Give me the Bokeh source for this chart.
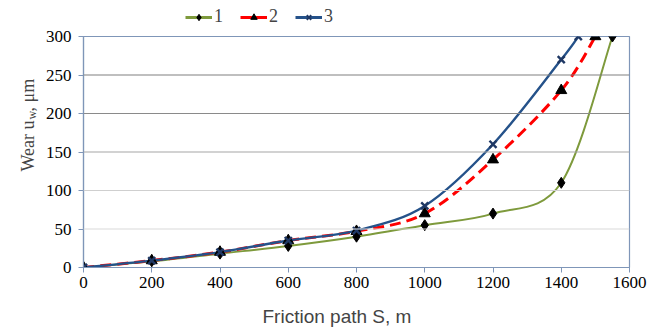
import numpy as np
from bokeh.plotting import figure
from bokeh.layouts import row, column
from bokeh.models import Legend, LegendItem, Label, Span, ColumnDataSource, FixedTicker
from bokeh.embed import file_html
from bokeh.resources import INLINE

# ---- data ----
s1 = [0, 200, 400, 600, 800, 1000, 1200, 1400, 1550]
w1 = [0, 8, 18, 28, 40, 55, 70, 110, 300]
s2 = [0, 200, 400, 600, 800, 1000, 1200, 1400, 1500]
w2 = [0, 9, 20, 35, 47, 70, 140, 230, 300]
s3 = [0, 200, 400, 600, 800, 1000, 1200, 1400, 1450]
w3 = [0, 9, 20, 35, 48, 80, 160, 270, 300]
names = ["1", "2", "3"]
x_ticks = [0, 200, 400, 600, 800, 1000, 1200, 1400, 1600]
y_ticks = [0, 50, 100, 150, 200, 250, 300]
x_title = "Friction path S, m"
y_title_parts = ["Wear u", "w", ", μm"]

colors = ["#7E9A3C", "#FF0000", "#25528A"]
mcolors = ["black", "black", "#1F3864"]
markers = ["diamond", "triangle", "x"]
dashes = ["solid", "11 6", "solid"]
widths = [2, 3, 2.4]
msizes = [11, 11, 10]

SERIF = "'Liberation Serif'"
SANS = "'Liberation Sans'"
AXC = "#7F96B8"

W, H = 660, 329
LEFT_W, TOP_H, BOT_H = 40, 27, 30
F_L, F_R, F_T, F_B = 83, 629, 36, 267   # plot frame edges (page pixels)


def blank(w, h, xr, yr):
    f = figure(width=w, height=h, x_range=xr, y_range=yr, output_backend="svg",
               toolbar_location=None, min_border=0, x_axis_location=None, y_axis_location=None)
    f.outline_line_color = None
    f.xgrid.visible = False
    f.ygrid.visible = False
    f.background_fill_color = "white"
    f.border_fill_color = "white"
    return f


# ---- main chart ----
main_h = H - TOP_H - BOT_H
p = figure(width=W - LEFT_W, height=main_h, x_range=(0, 1600), y_range=(0, 300),
           output_backend="svg", toolbar_location=None,
           min_border_left=F_L - LEFT_W, min_border_right=W - F_R,
           min_border_top=F_T - TOP_H, min_border_bottom=TOP_H + main_h - F_B)
p.background_fill_color = "white"
p.border_fill_color = "white"
p.outline_line_color = AXC
p.outline_line_width = 1.2

p.xgrid.visible = False
p.ygrid.visible = False
grid_cols = {50: "#D9D9D9", 100: "#CFCFCF", 150: "#A6A6A6", 200: "#8A8A8A", 250: "#808080"}
for yv in y_ticks[1:-1]:
    p.add_layout(Span(location=yv, dimension="width", line_color=grid_cols[yv], line_width=1.2))

for ax in (p.xaxis, p.yaxis):
    ax.axis_line_color = AXC
    ax.axis_line_width = 1.2
    ax.major_tick_line_color = AXC
    ax.major_tick_out = 5
    ax.major_tick_in = 0
    ax.minor_tick_line_color = None
    ax.major_label_text_font = SERIF
    ax.major_label_text_font_size = "17px"
    ax.major_label_text_color = "black"
p.xaxis.ticker = FixedTicker(ticks=x_ticks)
p.yaxis.ticker = FixedTicker(ticks=y_ticks)
p.xaxis.major_label_standoff = 4
p.yaxis.major_label_standoff = 7
p.xaxis.axis_label = None
p.yaxis.axis_label = None


def smooth(xs, ys):
    xs = np.asarray(xs, float)
    ys = np.asarray(ys, float)
    n = len(xs)
    xp = np.concatenate([[xs[0]], xs, [xs[-1]]])
    yp = np.concatenate([[ys[0]], ys, [ys[-1]]])
    d = dict(x0=[], y0=[], x1=[], y1=[], cx0=[], cy0=[], cx1=[], cy1=[])
    for i in range(n - 1):
        j = i + 1
        d["x0"].append(xp[j]); d["y0"].append(yp[j])
        d["x1"].append(xp[j + 1]); d["y1"].append(yp[j + 1])
        d["cx0"].append(xp[j] + (xp[j + 1] - xp[j - 1]) / 6)
        d["cy0"].append(yp[j] + (yp[j + 1] - yp[j - 1]) / 6)
        d["cx1"].append(xp[j + 1] - (xp[j + 2] - xp[j]) / 6)
        d["cy1"].append(yp[j + 1] - (yp[j + 2] - yp[j]) / 6)
    return ColumnDataSource(d)


series = [(s1, w1), (s2, w2), (s3, w3)]
for k, (xs, ys) in enumerate(series):
    src = smooth(xs, ys)
    p.bezier(x0="x0", y0="y0", x1="x1", y1="y1", cx0="cx0", cy0="cy0", cx1="cx1", cy1="cy1",
             source=src, line_color=colors[k], line_width=widths[k], line_dash=dashes[k])

for k, (xs, ys) in enumerate(series):
    p.scatter(xs, ys, marker=markers[k], size=msizes[k], fill_color=mcolors[k],
              line_color=mcolors[k], line_width=2.4 if markers[k] == "x" else 1)

# ---- top strip with the legend (its ranges keep the proxy data off-canvas) ----
t = blank(W, TOP_H, (-700, -40), (-30, 0))
items = []
for k, (xs, ys) in enumerate(series):
    lr = t.line(xs, ys, line_color=colors[k], line_width=3)
    sr = t.scatter(xs, ys, marker=markers[k], size=msizes[k] - 1, fill_color=mcolors[k],
                   line_color=mcolors[k], line_width=2 if markers[k] == "x" else 1)
    items.append(LegendItem(label=names[k], renderers=[lr, sr]))
legend = Legend(items=items, orientation="horizontal", location=(185, 0),
                background_fill_alpha=0, border_line_color=None,
                label_text_font=SERIF, label_text_font_size="18px",
                glyph_width=27, glyph_height=16, label_standoff=2, spacing=6,
                padding=0, margin=0, label_height=16)
t.add_layout(legend, "center")

# ---- left strip with the rotated y-axis title (its frame lines up with the chart frame) ----
q = blank(LEFT_W, main_h, (0, LEFT_W), (F_B, F_T))
q.add_layout(Label(x=27, y=171, text=y_title_parts[0], angle=np.pi / 2, text_font=SERIF,
                   text_font_size="18px", text_align="left", text_baseline="alphabetic"))
q.add_layout(Label(x=31, y=171 - 52, text=y_title_parts[1], angle=np.pi / 2, text_font=SERIF,
                   text_font_size="12px", text_align="left", text_baseline="alphabetic"))
q.add_layout(Label(x=27, y=171 - 60, text=y_title_parts[2], angle=np.pi / 2, text_font=SERIF,
                   text_font_size="18px", text_align="left", text_baseline="alphabetic"))

# ---- bottom strip with the x-axis title ----
b = blank(W, BOT_H, (0, W), (H, H - BOT_H))
b.add_layout(Label(x=262, y=316, text=x_title, text_font=SANS, text_font_size="19px",
                   text_align="left", text_baseline="middle"))

layout = column(t, row(q, p, spacing=0), b, spacing=0)
open("out.html", "w").write(file_html(layout, INLINE))
